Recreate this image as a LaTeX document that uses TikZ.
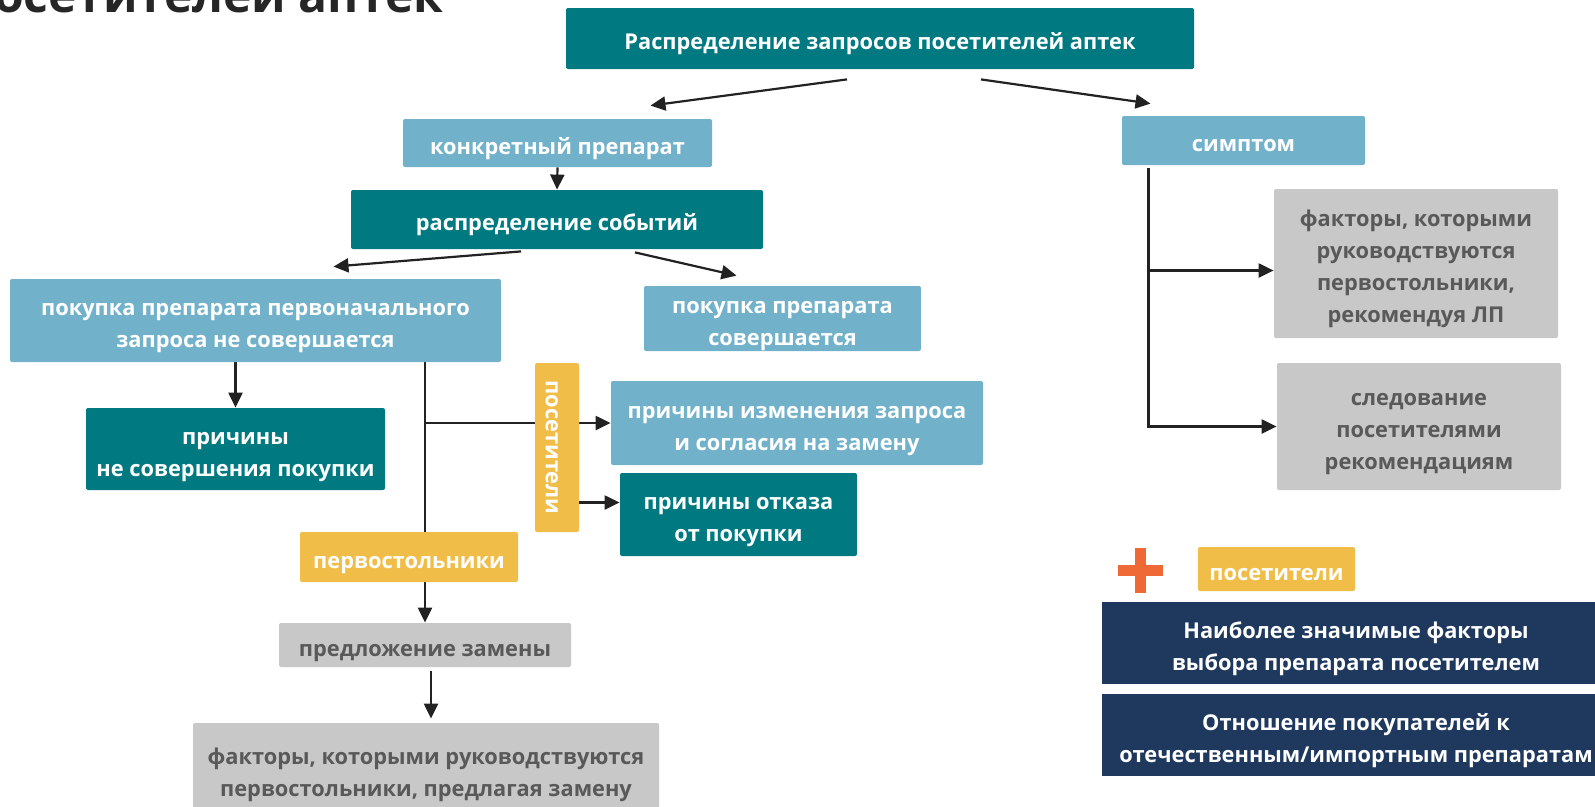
\documentclass[tikz,border=0pt]{standalone}
\usepackage{fontspec}
\setmainfont{Open Sans}
\usetikzlibrary{positioning,arrows.meta,backgrounds,calc}
\definecolor{tealc}{RGB}{0,122,128}
\definecolor{lbluec}{RGB}{114,177,202}
\definecolor{greyc}{RGB}{200,200,200}
\definecolor{greyt}{RGB}{89,89,89}
\definecolor{yellc}{RGB}{240,190,72}
\definecolor{navyc}{RGB}{30,56,94}
\definecolor{orangec}{RGB}{238,105,53}
\definecolor{linec}{RGB}{34,34,34}
\definecolor{titc}{RGB}{38,38,38}

\begin{document}
\begin{tikzpicture}[x=1pt,y=-1pt,thick]
\tikzstyle{box} = [rounded corners=2pt,inner sep=0pt,align=center,text=white,text depth=0pt,font=\bfseries\fontsize{21.8}{32}\selectfont,execute at begin node={\rule{0pt}{22.5pt}}]
\tikzstyle{l2} = [execute at begin node={\rule{0pt}{54.5pt}}]
\tikzstyle{l3} = [execute at begin node={\rule{0pt}{86.5pt}}]
\tikzstyle{l4} = [execute at begin node={\rule{0pt}{118.5pt}}]
\tikzstyle{tb} = [box,fill=tealc]
\tikzstyle{lb} = [box,fill=lbluec]
\tikzstyle{gb} = [box,fill=greyc,text=greyt]
\tikzstyle{yb} = [box,fill=yellc]
\tikzstyle{nb} = [box,fill=navyc,rounded corners=0pt]
\tikzstyle{arr} = [draw=linec,line width=2.2pt,-{Triangle[length=15pt,width=14pt]}]
\useasboundingbox (0,0) rectangle (1595,806);

% title, cut by the page
\node[anchor=base east,text=titc,font=\bfseries\fontsize{48}{58}\selectfont] (ttl) at (447,12.5) {посетителей аптек};

\node[tb,minimum width=628pt,minimum height=61pt] (top) at (880,38.5) {Распределение запросов посетителей аптек};
\node[lb,minimum width=309pt,minimum height=48pt] (konkr) at (557.5,143) {конкретный препарат};
\node[lb,minimum width=243pt,minimum height=49pt] (simpt) at (1243.5,140.5) {симптом};
\node[tb,minimum width=412pt,minimum height=59pt] (raspr) at (557,219.5) {распределение событий};
\node[lb,l2,minimum width=491pt,minimum height=83pt] (nesov) at (255.5,320.5) {покупка препарата первоначального\\запроса не совершается};
\node[lb,l2,minimum width=277pt,minimum height=65pt] (sov) at (782.5,318.5) {покупка препарата\\совершается};
\node[tb,l2,minimum width=299pt,minimum height=82pt] (prich) at (235.5,449) {причины\\не совершения покупки};
\node[lb,l2,minimum width=372pt,minimum height=84pt] (izm) at (797,423) {причины изменения запроса\\и согласия на замену};
\node[tb,l2,minimum width=237pt,minimum height=83pt] (otkaz) at (738.5,514.5) {причины отказа\\от покупки};
\node[gb,minimum width=292pt,minimum height=44pt] (predl) at (425,645) {предложение замены};
\node[gb,l2,minimum width=466pt,minimum height=92pt] (fakt) at (426,769) {факторы, которыми руководствуются\\первостольники, предлагая замену};
\node[gb,l4,minimum width=284pt,minimum height=149pt] (fakt2) at (1416,263.5) {факторы, которыми\\руководствуются\\первостольники,\\рекомендуя ЛП};
\node[gb,l3,minimum width=284pt,minimum height=127pt] (sled) at (1419,426.5) {следование\\посетителями\\рекомендациям};
\node[yb,minimum width=218pt,minimum height=50pt] (perv) at (409,557) {первостольники};
\node[yb,minimum width=157pt,minimum height=44pt] (pos2) at (1276.5,569) {посетители};
\node[nb,l2,minimum width=508pt,minimum height=82pt] (znach) at (1356,643) {Наиболее значимые факторы\\выбора препарата посетителем};
\node[nb,l2,minimum width=508pt,minimum height=82pt] (otnosh) at (1356,735) {Отношение покупателей к\\отечественным/импортным препаратам};

% plus sign
\fill[orangec] (1118,565) rectangle (1163,576);
\fill[orangec] (1135,548) rectangle (1146,593);

\begin{pgfonlayer}{background}
\draw[arr] ([xshift=-33pt,yshift=-10pt]top.south) -- ([xshift=93pt,yshift=13pt]konkr.north);
\draw[arr] ([xshift=101pt,yshift=-10pt]top.south) -- ([xshift=-93pt,yshift=12pt]simpt.north);
\draw[arr] (konkr.south) -- (raspr.north);
\draw[arr] ([xshift=-36pt,yshift=-2pt]raspr.south) -- ([xshift=78pt,yshift=12pt]nesov.north);
\draw[arr] ([xshift=78pt,yshift=-3pt]raspr.south) -- ([xshift=-46pt,yshift=10pt]sov.north);
\draw[arr] (nesov.south -| prich.north) -- (prich.north);
\draw[arr] (nesov.south -| predl.north) -- (predl.north);
\coordinate (br1) at (predl.north |- izm.west);
\draw[arr] (br1) -- (izm.west);
\draw[arr,shorten <=4pt,shorten >=4pt] ([xshift=6pt]predl.south) -- ([xshift=5pt]fakt.north);
\coordinate (s0) at ([xshift=-95pt,yshift=-3pt]simpt.south);
\coordinate (br2) at ([yshift=-7pt]fakt2.west);
\draw[arr] (s0) |- (sled.west);
\draw[arr] (s0 |- br2) -- (br2);
\end{pgfonlayer}

\node[yb,minimum width=169pt,minimum height=44pt,rotate=-90,execute at begin node={}] (posv) at (557,447.5) {посетители};
\draw[arr] ([yshift=-55pt]posv.center -| posv.north) coordinate (p1) -- (p1 -| otkaz.west);
\end{tikzpicture}
\end{document}
